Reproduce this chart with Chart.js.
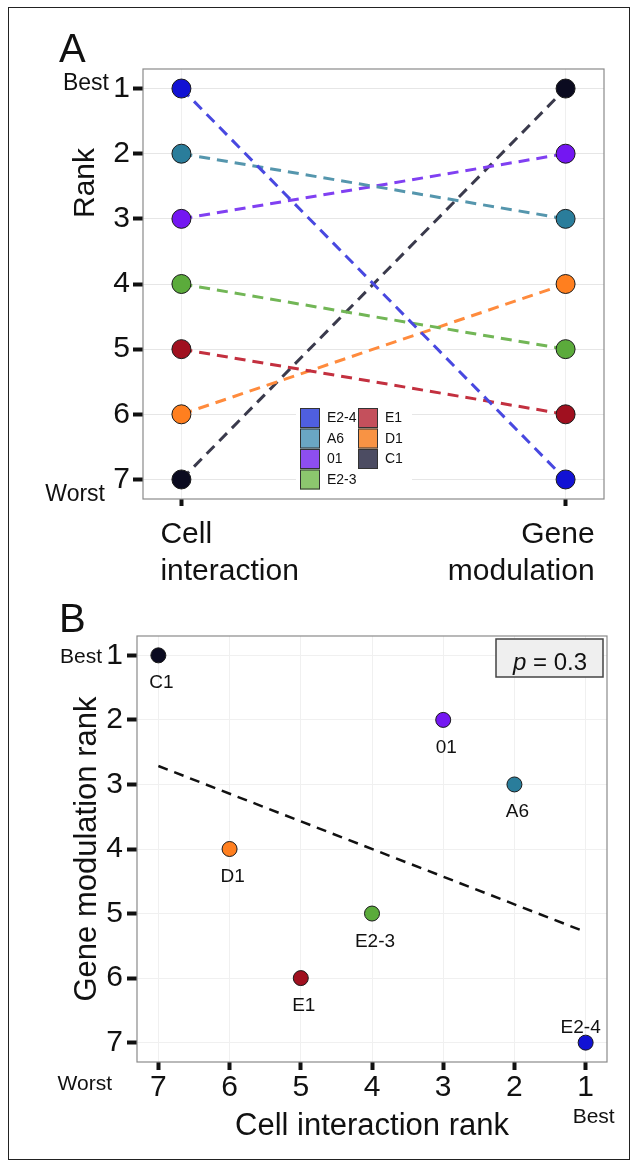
<!DOCTYPE html>
<html>
<head>
<meta charset="utf-8">
<script src="https://cdn.jsdelivr.net/npm/chart.js@4.4.1/dist/chart.umd.min.js"></script>
<style>
  body { margin: 0; background: #fff; }
  #wrap { position: relative; width: 632px; height: 1168px; }
  #frame { position: absolute; left: 8px; top: 7px; width: 620px; height: 1151px; border: 1.5px solid #222; }
  #cA { position: absolute; left: 0; top: 0; }
  #cB { position: absolute; left: 0; top: 595px; }
</style>
</head>
<body>
<div id="wrap">
  <div id="frame"></div>
  <canvas id="cA" width="632" height="595"></canvas>
  <canvas id="cB" width="632" height="573"></canvas>
</div>
<script>
// strains and their ranks
const strains = ['E2-4', 'A6', '01', 'E2-3', 'E1', 'D1', 'C1'];
const cellRank = [1, 2, 3, 4, 5, 6, 7];
const geneRank = [7, 3, 2, 5, 6, 4, 1];
const rankTicks = [1, 2, 3, 4, 5, 6, 7];
const sideLabels = [['Cell', 'interaction'], ['Gene', 'modulation']];
const pValue = '0.3';

const pointColors = ['#1212d4', '#2a7d9b', '#7417f2', '#5bab3b', '#a0101f', '#ff7f1f', '#0b0b20'];
const lineColors = ['#4848e0', '#5596ad', '#8040f2', '#72b656', '#c3303f', '#ff8b3d', '#3a3a4c'];
const legendColors = ['#4f5fe0', '#6aa6c4', '#8d4ef0', '#8cc66e', '#c4505c', '#f89344', '#4c4c62'];

const FONT = '"Liberation Sans", Arial, Helvetica, sans-serif';
Chart.defaults.font.family = FONT;
Chart.defaults.color = '#111';

// least squares line for panel B
const n = cellRank.length;
const mx = cellRank.reduce((a, b) => a + b, 0) / n;
const my = geneRank.reduce((a, b) => a + b, 0) / n;
let sxy = 0, sxx = 0;
for (let i = 0; i < n; i++) {
    sxy += (cellRank[i] - mx) * (geneRank[i] - my);
    sxx += (cellRank[i] - mx) * (cellRank[i] - mx);
}
const slope = sxy / sxx, icpt = my - slope * mx;
const fitX = [Math.max(...cellRank), Math.min(...cellRank)];
const fitPts = fitX.map(v => ({ x: v, y: icpt + slope * v }));

function fixTicks(scale) { scale.ticks = rankTicks.map(v => ({ value: v })); }

const frameBox = {
    id: 'frameBox',
    beforeDatasetsDraw(chart) {
        const a = chart.chartArea, ctx = chart.ctx;
        ctx.save();
        ctx.strokeStyle = '#8a8a8a';
        ctx.lineWidth = 1.2;
        ctx.strokeRect(a.left, a.top, a.right - a.left, a.bottom - a.top);
        ctx.restore();
    }
};

const decorA = {
    id: 'decorA',
    afterDraw(chart) {
        const { ctx, chartArea: a, scales: { x, y } } = chart;
        ctx.save();
        ctx.fillStyle = '#111';
        ctx.textBaseline = 'alphabetic';
        ctx.textAlign = 'left';
        ctx.font = '40px ' + FONT;
        ctx.fillText('A', 59, 62);

        ctx.font = '23px ' + FONT;
        ctx.textAlign = 'right';
        ctx.fillText('Best', 109, y.getPixelForValue(1) + 1);
        ctx.fillText('Worst', 105, y.getPixelForValue(7) + 22);

        // axis title
        ctx.save();
        ctx.translate(86, 183);
        ctx.rotate(-Math.PI / 2);
        ctx.textAlign = 'center';
        ctx.textBaseline = 'middle';
        ctx.font = '30px ' + FONT;
        ctx.fillText('Rank', 0, 0);
        ctx.restore();

        // side labels under the two columns
        ctx.font = '30px ' + FONT;
        ctx.textAlign = 'left';
        sideLabels[0].forEach((t, k) => ctx.fillText(t, x.getPixelForValue(1) - 21, a.bottom + 44 + k * 37));
        ctx.textAlign = 'right';
        sideLabels[1].forEach((t, k) => ctx.fillText(t, x.getPixelForValue(2) + 29, a.bottom + 44 + k * 37));

        // legend, two columns
        ctx.fillStyle = '#fff';
        ctx.fillRect(296, 404, 116, 89);
        ctx.font = '14px ' + FONT;
        ctx.textBaseline = 'middle';
        ctx.textAlign = 'left';
        strains.forEach((s, i) => {
            const col = Math.floor(i / 4), row = i % 4;
            const bx = 300 + col * 58, by = 408 + row * 20.5;
            ctx.fillStyle = legendColors[i];
            ctx.fillRect(bx, by, 20, 20);
            ctx.strokeStyle = '#333';
            ctx.lineWidth = 1;
            ctx.strokeRect(bx + 0.5, by + 0.5, 19, 19);
            ctx.fillStyle = '#111';
            ctx.fillText(s, bx + 27, by + 10.5);
        });
        ctx.restore();
    }
};

const decorB = {
    id: 'decorB',
    afterDatasetsDraw(chart) {
        const ctx = chart.ctx;
        const meta = chart.getDatasetMeta(1);
        ctx.save();
        ctx.fillStyle = '#111';
        ctx.font = '19px ' + FONT;
        ctx.textAlign = 'center';
        ctx.textBaseline = 'alphabetic';
        meta.data.forEach((pt, i) => {
            const below = geneRank[i] < Math.max(...geneRank);
            ctx.fillText(strains[i], pt.x + (below ? 3 : -5), below ? pt.y + 33 : pt.y - 10);
        });
        ctx.restore();
    },
    afterDraw(chart) {
        const { ctx, chartArea: a, scales: { x, y } } = chart;
        ctx.save();
        ctx.fillStyle = '#111';
        ctx.textBaseline = 'alphabetic';
        ctx.textAlign = 'left';
        ctx.font = '40px ' + FONT;
        ctx.fillText('B', 59, 37);

        ctx.font = '21px ' + FONT;
        ctx.textAlign = 'right';
        ctx.fillText('Best', 102, y.getPixelForValue(1) + 8);
        ctx.fillText('Worst', 112, a.bottom + 28);
        ctx.textAlign = 'center';
        ctx.fillText('Best', x.getPixelForValue(1) + 8, a.bottom + 61);

        // p value box
        const bw = 107, bh = 38;
        const bx = a.right - 4 - bw, by = a.top + 3;
        ctx.fillStyle = '#efefef';
        ctx.fillRect(bx, by, bw, bh);
        ctx.strokeStyle = '#444';
        ctx.lineWidth = 1.5;
        ctx.strokeRect(bx, by, bw, bh);
        ctx.fillStyle = '#111';
        ctx.textAlign = 'left';
        ctx.font = 'italic 24px ' + FONT;
        const tx = bx + 17, ty = by + 31;
        ctx.fillText('p', tx, ty);
        const pw = ctx.measureText('p').width;
        ctx.font = '24px ' + FONT;
        ctx.fillText(' = ' + pValue, tx + pw, ty);
        ctx.restore();
    }
};

new Chart(document.getElementById('cA'), {
    type: 'line',
    data: {
        datasets: strains.map((s, i) => ({
            label: s,
            data: [{ x: 1, y: cellRank[i] }, { x: 2, y: geneRank[i] }],
            borderColor: lineColors[i],
            borderWidth: 3,
            borderDash: [11, 7],
            pointRadius: 9.5,
            pointBackgroundColor: pointColors[i],
            pointBorderColor: '#1a1a1a',
            pointBorderWidth: 1,
            tension: 0
        }))
    },
    options: {
        responsive: false,
        animation: false,
        events: [],
        layout: { padding: { left: 0, top: 69, right: 28, bottom: 0 } },
        plugins: { legend: { display: false }, tooltip: { enabled: false } },
        scales: {
            x: {
                type: 'linear', min: 0.9, max: 2.1,
                afterBuildTicks: s => { s.ticks = [{ value: 1 }, { value: 2 }]; },
                afterFit: s => { s.height = 96; },
                ticks: { display: false },
                grid: { color: '#efefef', tickColor: '#111', tickWidth: 4, tickLength: 7 },
                border: { display: false }
            },
            y: {
                type: 'linear', reverse: true, min: 0.7, max: 7.3,
                afterBuildTicks: fixTicks,
                afterFit: s => { s.width = 143; },
                ticks: { font: { size: 30 }, color: '#111', padding: 3 },
                grid: { color: '#e6e6e6', tickColor: '#111', tickWidth: 4, tickLength: 10 },
                border: { display: false }
            }
        }
    },
    plugins: [frameBox, decorA]
});

new Chart(document.getElementById('cB'), {
    type: 'scatter',
    data: {
        datasets: [
            {
                label: 'fit', type: 'line', data: fitPts,
                borderColor: '#111', borderWidth: 2.5, borderDash: [10, 7],
                pointRadius: 0, order: 2
            },
            {
                label: 'strains',
                data: strains.map((s, i) => ({ x: cellRank[i], y: geneRank[i] })),
                pointRadius: 7.5,
                pointBackgroundColor: pointColors,
                pointBorderColor: '#1a1a1a',
                pointBorderWidth: 1,
                order: 1
            }
        ]
    },
    options: {
        responsive: false,
        animation: false,
        events: [],
        layout: { padding: { left: 0, top: 41, right: 25, bottom: 0 } },
        plugins: { legend: { display: false }, tooltip: { enabled: false } },
        scales: {
            x: {
                type: 'linear', reverse: true, min: 0.7, max: 7.3,
                afterBuildTicks: fixTicks,
                afterFit: s => { s.height = 106; },
                ticks: { font: { size: 30 }, color: '#111', padding: 0 },
                grid: { color: '#f0f0f0', tickColor: '#111', tickWidth: 4, tickLength: 8 },
                border: { display: false },
                title: { display: true, text: 'Cell interaction rank', font: { size: 31 }, color: '#111', padding: { top: 0, bottom: 23 } }
            },
            y: {
                type: 'linear', reverse: true, min: 0.7, max: 7.3,
                afterBuildTicks: fixTicks,
                afterFit: s => { s.width = 137; },
                ticks: { font: { size: 30 }, color: '#111', padding: 4 },
                grid: { color: '#f0f0f0', tickColor: '#111', tickWidth: 4, tickLength: 10 },
                border: { display: false },
                title: { display: true, text: 'Gene modulation rank', font: { size: 31 }, color: '#111', padding: { top: 69, bottom: 0 } }
            }
        }
    },
    plugins: [frameBox, decorB]
});
</script>
</body>
</html>
